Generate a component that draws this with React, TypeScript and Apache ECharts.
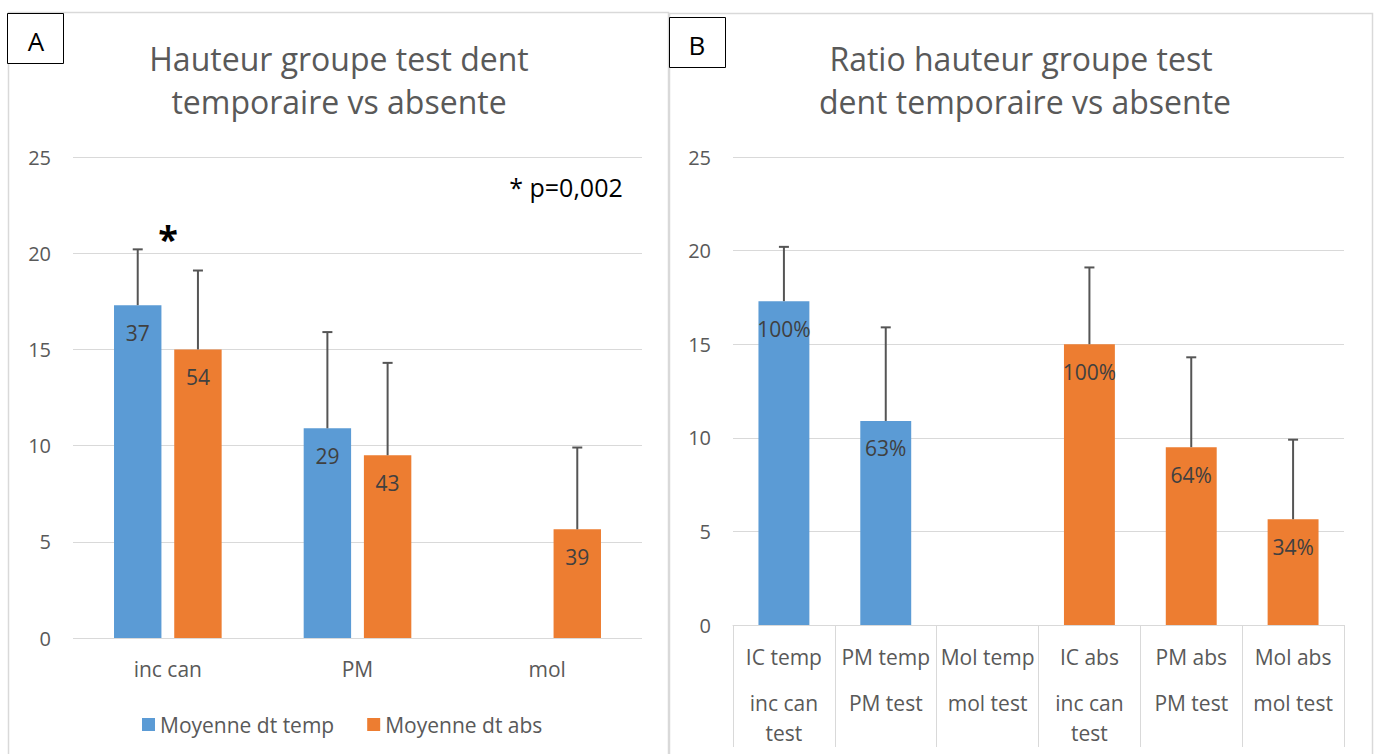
import React, { useEffect, useRef } from "react";
import * as echarts from "echarts";

// ---- Panel A data ----
const categoriesA = ["inc can", "PM", "mol"];
const tempMean = [17.3, 10.9, null];
const tempSD = [2.9, 5.0, null];
const tempN = [37, 29, null];
const absMean = [15.0, 9.5, 5.65];
const absSD = [4.1, 4.8, 4.25];
const absN = [54, 43, 39];

// ---- Panel B data ----
const categoriesB = ["IC temp", "PM temp", "Mol temp", "IC abs", "PM abs", "Mol abs"];
const groupsB = ["inc can\ntest", "PM test", "mol test", "inc can\ntest", "PM test", "mol test"];
const ratioMean = [17.3, 10.9, null, 15.0, 9.5, 5.65];
const ratioSD = [2.9, 5.0, null, 4.1, 4.8, 4.25];
const ratioLabels = ["100%", "63%", "", "100%", "64%", "34%"];
const ratioKind = ["temp", "temp", "temp", "abs", "abs", "abs"];

const BLUE = "#5B9BD5";
const ORANGE = "#ED7D31";
const GREY = "#595959";
const GRID = "#d9d9d9";
const FONT = "Open Sans";

function errorSeries(name, xIdx, yIdx, means, sds, barFrac, gapFrac, side) {
  const data = [];
  means.forEach((m, i) => {
    if (m != null && sds[i] != null) data.push([i, m + sds[i], m]);
  });
  return {
    type: "custom",
    name,
    xAxisIndex: xIdx,
    yAxisIndex: yIdx,
    z: 5,
    encode: { x: 0, y: 1 },
    data,
    renderItem: (params, api) => {
      const ci = api.value(0);
      const top = api.value(1);
      const mean = api.value(2);
      const pTop = api.coord([ci, top]);
      const pMean = api.coord([ci, mean]);
      const band = api.size([1, 0])[0];
      const bw = barFrac * band;
      const gap = gapFrac * bw;
      const x = pTop[0] + side * (bw + gap) / 2;
      const style = { stroke: "#555555", lineWidth: 2 };
      return {
        type: "group",
        children: [
          { type: "line", shape: { x1: x, y1: pMean[1], x2: x, y2: pTop[1] }, style },
          { type: "line", shape: { x1: x - 5, y1: pTop[1], x2: x + 5, y2: pTop[1] }, style },
        ],
      };
    },
  };
}

export default function App() {
  const ref = useRef(null);
  useEffect(() => {
    document.body.style.margin = "0";
    const chart = echarts.init(ref.current, null, { renderer: "svg" });
    const yAxisCommon = {
      type: "value",
      min: 0,
      max: 25,
      interval: 5,
      axisLine: { show: false },
      axisTick: { show: false },
      axisLabel: { color: GREY, fontSize: 20, margin: 22, fontFamily: FONT },
      splitLine: { lineStyle: { color: GRID, width: 1 } },
    };
    const option = {
      animation: false,
      textStyle: { fontFamily: FONT },
      grid: [
        { left: 73, right: 738, top: 157, bottom: 116 },
        { left: 733, right: 36, top: 157, bottom: 129 },
      ],
      legend: {
        data: ["Moyenne dt temp", "Moyenne dt abs"],
        left: 142,
        top: 714,
        padding: 0,
        icon: "rect",
        itemWidth: 13,
        itemHeight: 13,
        itemGap: 33,
        textStyle: { color: GREY, fontSize: 21, fontFamily: FONT },
      },
      xAxis: [
        {
          type: "category",
          gridIndex: 0,
          data: categoriesA,
          axisLine: { show: false },
          axisTick: { show: false },
          axisLabel: { color: GREY, fontSize: 21, margin: 20, fontFamily: FONT },
        },
        {
          type: "category",
          gridIndex: 1,
          data: categoriesB,
          axisLine: { show: true, lineStyle: { color: GRID, width: 1 } },
          axisTick: { show: true, interval: 0, length: 122, lineStyle: { color: GRID, width: 1 } },
          axisLabel: {
            interval: 0,
            margin: 1,
            formatter: (v, i) => {
              const lines = groupsB[i].split("\n").map((s) => `{b|${s}}`).join("\n");
              return `{a|${v}}\n${lines}`;
            },
            rich: {
              a: { color: GREY, fontSize: 21, lineHeight: 62, fontFamily: FONT },
              b: { color: GREY, fontSize: 21, lineHeight: 30, fontFamily: FONT },
            },
          },
        },
      ],
      yAxis: [
        { ...yAxisCommon, gridIndex: 0 },
        { ...yAxisCommon, gridIndex: 1 },
      ],
      series: [
        {
          type: "bar",
          name: "Moyenne dt temp",
          xAxisIndex: 0,
          yAxisIndex: 0,
          data: tempMean.map((v) => (v == null ? "-" : v)),
          barWidth: "25%",
          barGap: "27%",
          itemStyle: { color: BLUE },
          label: {
            show: true,
            position: "insideTop",
            distance: 17,
            color: "#404040",
            fontSize: 21,
            fontFamily: FONT,
            formatter: (p) => (tempN[p.dataIndex] == null ? "" : String(tempN[p.dataIndex])),
          },
        },
        {
          type: "bar",
          name: "Moyenne dt abs",
          xAxisIndex: 0,
          yAxisIndex: 0,
          data: absMean.map((v) => (v == null ? "-" : v)),
          barWidth: "25%",
          barGap: "27%",
          itemStyle: { color: ORANGE },
          label: {
            show: true,
            position: "insideTop",
            distance: 17,
            color: "#404040",
            fontSize: 21,
            fontFamily: FONT,
            formatter: (p) => (absN[p.dataIndex] == null ? "" : String(absN[p.dataIndex])),
          },
        },
        errorSeries("errTemp", 0, 0, tempMean, tempSD, 0.25, 0.27, -1),
        errorSeries("errAbs", 0, 0, absMean, absSD, 0.25, 0.27, 1),
        {
          type: "bar",
          name: "Ratio",
          xAxisIndex: 1,
          yAxisIndex: 1,
          barWidth: "50%",
          data: ratioMean.map((v, i) => ({
            value: v == null ? "-" : v,
            itemStyle: { color: ratioKind[i] === "temp" ? BLUE : ORANGE },
          })),
          label: {
            show: true,
            position: "insideTop",
            distance: 17,
            color: "#404040",
            fontSize: 21,
            fontFamily: FONT,
            formatter: (p) => ratioLabels[p.dataIndex],
          },
        },
        errorSeries("errRatio", 1, 1, ratioMean, ratioSD, 0.5, 0, 0),
      ],
      graphic: [
        { type: "rect", z: -10, shape: { x: 8.5, y: 12.5, width: 660, height: 800 }, style: { fill: "none", stroke: GRID, lineWidth: 1.5 } },
        { type: "rect", z: -10, shape: { x: 669.5, y: 13.5, width: 703, height: 800 }, style: { fill: "none", stroke: GRID, lineWidth: 1.5 } },
        { type: "rect", shape: { x: 7.5, y: 13.5, width: 56, height: 50 }, style: { fill: "#fff", stroke: "#000", lineWidth: 1 } },
        { type: "text", x: 36, y: 41, style: { text: "A", fontSize: 26, fill: "#000", textAlign: "center", textVerticalAlign: "middle", fontFamily: FONT } },
        { type: "rect", shape: { x: 669.5, y: 17.5, width: 56, height: 50 }, style: { fill: "#fff", stroke: "#000", lineWidth: 1 } },
        { type: "text", x: 697, y: 45, style: { text: "B", fontSize: 26, fill: "#000", textAlign: "center", textVerticalAlign: "middle", fontFamily: FONT } },
        { type: "text", x: 339, y: 58, style: { text: "Hauteur groupe test dent", fontSize: 32, fill: GREY, textAlign: "center", textVerticalAlign: "middle", fontFamily: FONT } },
        { type: "text", x: 339, y: 101, style: { text: "temporaire vs absente", fontSize: 32, fill: GREY, textAlign: "center", textVerticalAlign: "middle", fontFamily: FONT } },
        { type: "text", x: 1021, y: 58, style: { text: "Ratio hauteur groupe test", fontSize: 32, fill: GREY, textAlign: "center", textVerticalAlign: "middle", fontFamily: FONT } },
        { type: "text", x: 1025, y: 101, style: { text: "dent temporaire vs absente", fontSize: 32, fill: GREY, textAlign: "center", textVerticalAlign: "middle", fontFamily: FONT } },
        { type: "text", x: 168, y: 238, style: { text: "*", fontSize: 36, fontWeight: "bold", fill: "#000", textAlign: "center", textVerticalAlign: "middle", fontFamily: FONT } },
        { type: "text", x: 566, y: 187, style: { text: "* p=0,002", fontSize: 25, fill: "#000", textAlign: "center", textVerticalAlign: "middle", fontFamily: FONT } },
      ],
    };
    chart.setOption(option);
    return () => chart.dispose();
  }, []);
  return <div ref={ref} style={{ width: 1380, height: 754 }} />;
}
